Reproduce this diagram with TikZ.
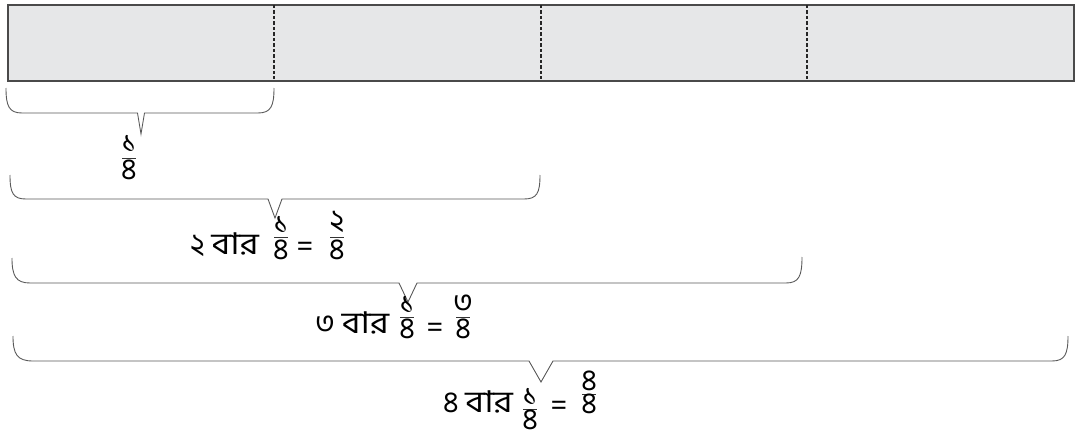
\documentclass[tikz,border=0pt]{standalone}
\usepackage{fontspec}
\newfontfamily\bn[Script=Bengali]{Hind Siliguri}
\definecolor{boxfill}{HTML}{E6E7E8}
\definecolor{boxline}{HTML}{4A4A4A}
\tikzset{
  box/.style={draw=boxline, line width=1.6pt, fill=boxfill},
  divider/.style={draw=black!85, line width=1.1pt, dash pattern=on 3.5pt off 2pt},
  bracepath/.style={draw=black!65, line width=0.9pt},
  txt/.style={inner sep=0pt, font=\bn\fontsize{30}{34}\selectfont},
  fbar/.style={draw=black!80, line width=0.9pt}
}
\newcommand{\wide}[1]{\scalebox{1.2}[1]{#1}}
\newcommand{\frc}[6]{% name, x, numy, bary, deny, numerator
  \node[txt] (#1n) at (#2,#3) {#6};
  \draw[fbar] (#2-7,#4) -- (#2+7,#4);
  \node[txt] (#1d) at (#2,#5) {৪};}
\begin{document}
\begin{tikzpicture}[x=1pt,y=-1pt]
\useasboundingbox (0,0) rectangle (1084,436);
\node[box, minimum width=1066pt, minimum height=76pt, inner sep=0pt, anchor=north west] (bar) at (7,4) {};
\draw[divider] (274,5) coordinate (d1a) -- (274,79) coordinate (d1b);
\draw[divider] (541,5) coordinate (d2a) -- (541,79) coordinate (d2b);
\draw[divider] (807,5) coordinate (d3a) -- (807,79) coordinate (d3b);
% braces
\draw[bracepath] (6,88) .. controls (6,106) and (9,113) .. (22,113) -- (137.5,113) -- (141,134) -- (144.5,113) -- (258,113) .. controls (271,113) and (274,106) .. (274,88);
\draw[bracepath] (10,175) .. controls (10,193) and (13,199) .. (26,199) -- (268,199) -- (275,218) -- (282,199) -- (524,199) .. controls (537,199) and (540,193) .. (540,175);
\draw[bracepath] (12,258) .. controls (12,276) and (16,283) .. (30,283) -- (399,283) -- (408,302) -- (417,283) -- (786,283) .. controls (799,283) and (802,276) .. (802,257);
\draw[bracepath] (13,336) .. controls (13,354) and (17,361) .. (33,361) -- (529,361) -- (541,382) -- (553,361) -- (1052,361) .. controls (1065,361) and (1068,354) .. (1068,336);
% label 1
\frc{fa}{129}{144}{158}{170}{১}
% label 2
\node[txt, anchor=west] (t2) at (190,245) {২ \wide{বার}};
\frc{fb}{281}{225}{237}{250}{১}
\node[txt] (e2) at (305,249) {=};
\frc{fc}{337}{222}{237}{250}{২}
% label 3
\node[txt, anchor=west] (t3) at (315,323) {৩ \wide{বার}};
\frc{fd}{407}{305}{317}{329}{১}
\node[txt] (e3) at (435,330) {=};
\frc{fe}{463}{304}{317}{329}{৩}
% label 4
\node[txt, anchor=west] (t4) at (443,402) {৪ \wide{বার}};
\frc{ff}{530}{397}{409}{420}{১}
\node[txt] (e4) at (559,408) {=};
\frc{fg}{589}{381}{394}{404}{৪}
\end{tikzpicture}
\end{document}
